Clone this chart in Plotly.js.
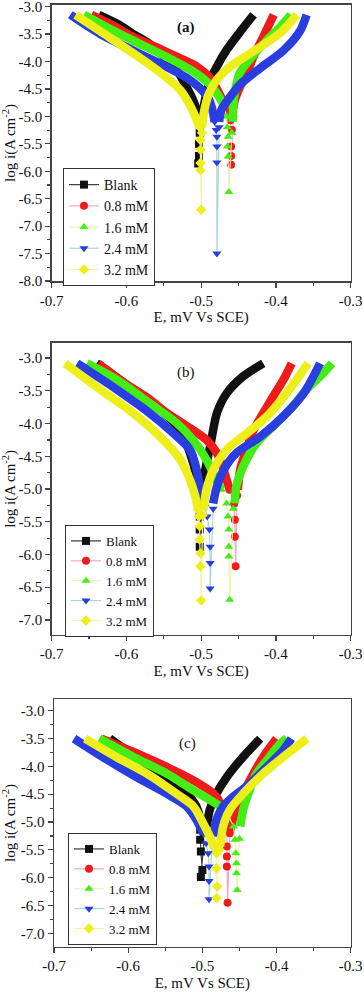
<!DOCTYPE html>
<html>
<head>
<meta charset="utf-8">
<script src="https://cdn.plot.ly/plotly-3.0.1.min.js"></script>
<style>
html,body{margin:0;padding:0;background:#fff;}
#chart{width:364px;height:992px;}
</style>
</head>
<body>
<div id="chart"></div>
<script>
// ---------------- DATA (E vs SCE, log i) ----------------
const seriesNames = ['Blank', '0.8 mM', '1.6 mM', '2.4 mM', '3.2 mM'];
const panelLabels = ['(a)', '(b)', '(c)'];
const xTickVals = [-0.7, -0.6, -0.5, -0.4, -0.3];
const xTickText = ['-0.7', '-0.6', '-0.5', '-0.4', '-0.3'];
const yTickValsA = [-3.0, -3.5, -4.0, -4.5, -5.0, -5.5, -6.0, -6.5, -7.0, -7.5, -8.0];
const yTickTextA = ['-3.0', '-3.5', '-4.0', '-4.5', '-5.0', '-5.5', '-6.0', '-6.5', '-7.0', '-7.5', '-8.0'];
const yTickValsBC = [-3.0, -3.5, -4.0, -4.5, -5.0, -5.5, -6.0, -6.5, -7.0];
const yTickTextBC = ['-3.0', '-3.5', '-4.0', '-4.5', '-5.0', '-5.5', '-6.0', '-6.5', '-7.0'];

// Panel (a)
const a_blank_cath = [[-0.637,-3.15],[-0.610,-3.33],[-0.591,-3.50],[-0.570,-3.67],[-0.555,-3.85],[-0.543,-4.00],[-0.533,-4.15],[-0.522,-4.40],[-0.513,-4.64],[-0.506,-4.88],[-0.503,-5.05]];
const a_blank_tip  = [[-0.503,-5.05],[-0.502,-5.30],[-0.503,-5.50],[-0.503,-5.72],[-0.504,-5.86],[-0.499,-5.10]];
const a_blank_anod = [[-0.499,-5.00],[-0.497,-4.85],[-0.494,-4.64],[-0.488,-4.34],[-0.479,-4.09],[-0.466,-3.79],[-0.448,-3.46],[-0.430,-3.15]];
const a_red_cath = [[-0.647,-3.15],[-0.620,-3.33],[-0.591,-3.55],[-0.560,-3.74],[-0.530,-3.93],[-0.506,-4.09],[-0.488,-4.30],[-0.477,-4.55],[-0.468,-4.80]];
const a_red_tip  = [[-0.468,-4.80],[-0.464,-4.92],[-0.461,-5.07],[-0.459,-5.25],[-0.460,-5.55],[-0.460,-5.72],[-0.460,-5.88],[-0.457,-5.00]];
const a_red_anod = [[-0.457,-4.85],[-0.455,-4.70],[-0.448,-4.46],[-0.439,-4.22],[-0.430,-3.91],[-0.417,-3.55],[-0.403,-3.15]];
const a_green_cath = [[-0.657,-3.15],[-0.630,-3.35],[-0.591,-3.62],[-0.546,-3.92],[-0.511,-4.18],[-0.490,-4.40],[-0.478,-4.60],[-0.470,-4.80]];
const a_green_tip  = [[-0.470,-4.80],[-0.466,-5.00],[-0.465,-5.20],[-0.464,-5.37],[-0.465,-5.55],[-0.464,-5.73],[-0.463,-6.38],[-0.459,-5.30]];
const a_green_anod = [[-0.458,-5.10],[-0.457,-4.80],[-0.455,-4.55],[-0.448,-4.20],[-0.430,-3.88],[-0.412,-3.61],[-0.395,-3.38],[-0.380,-3.15]];
const a_blue_cath = [[-0.675,-3.15],[-0.635,-3.50],[-0.591,-3.80],[-0.546,-4.10],[-0.519,-4.30],[-0.502,-4.48],[-0.490,-4.68],[-0.484,-4.94],[-0.482,-5.10]];
const a_blue_tip  = [[-0.482,-5.10],[-0.480,-5.25],[-0.479,-5.37],[-0.479,-5.55],[-0.479,-5.84],[-0.479,-7.50],[-0.476,-5.20]];
const a_blue_anod = [[-0.476,-5.10],[-0.473,-4.88],[-0.461,-4.64],[-0.448,-4.42],[-0.421,-4.12],[-0.390,-3.80],[-0.368,-3.45],[-0.359,-3.15]];
const a_yellow_cath = [[-0.668,-3.15],[-0.635,-3.45],[-0.591,-3.85],[-0.555,-4.20],[-0.528,-4.52],[-0.513,-4.85],[-0.505,-5.10],[-0.502,-5.20]];
const a_yellow_tip  = [[-0.502,-5.20],[-0.501,-5.43],[-0.501,-5.61],[-0.501,-5.85],[-0.501,-5.98],[-0.500,-6.70],[-0.499,-5.30]];
const a_yellow_anod = [[-0.499,-5.20],[-0.496,-4.90],[-0.490,-4.60],[-0.480,-4.35],[-0.462,-4.10],[-0.440,-3.90],[-0.415,-3.68],[-0.392,-3.45],[-0.372,-3.15]];

// Panel (b)
const b_blank_cath = [[-0.640,-3.08],[-0.615,-3.28],[-0.591,-3.48],[-0.555,-3.79],[-0.528,-4.10],[-0.515,-4.45],[-0.506,-4.81],[-0.503,-5.01]];
const b_blank_tip  = [[-0.503,-5.01],[-0.502,-5.22],[-0.502,-5.42],[-0.502,-5.62],[-0.502,-5.88],[-0.499,-5.10]];
const b_blank_anod = [[-0.498,-5.00],[-0.496,-4.81],[-0.493,-4.61],[-0.488,-4.35],[-0.484,-4.10],[-0.479,-3.84],[-0.466,-3.54],[-0.444,-3.28],[-0.417,-3.08]];
const b_red_cath = [[-0.638,-3.08],[-0.600,-3.40],[-0.570,-3.62],[-0.546,-3.84],[-0.519,-4.04],[-0.493,-4.25],[-0.479,-4.45],[-0.470,-4.71],[-0.462,-5.01]];
const b_red_tip  = [[-0.462,-5.01],[-0.456,-5.22],[-0.455,-5.47],[-0.455,-5.73],[-0.454,-6.18],[-0.452,-5.10]];
const b_red_anod = [[-0.451,-5.01],[-0.448,-4.71],[-0.441,-4.45],[-0.430,-4.10],[-0.417,-3.84],[-0.404,-3.59],[-0.390,-3.33],[-0.379,-3.08]];
const b_green_cath = [[-0.653,-3.08],[-0.613,-3.33],[-0.569,-3.69],[-0.533,-3.99],[-0.511,-4.25],[-0.493,-4.55],[-0.482,-4.81],[-0.473,-5.01]];
const b_green_tip  = [[-0.473,-5.01],[-0.466,-5.22],[-0.464,-5.42],[-0.463,-5.62],[-0.463,-5.88],[-0.463,-6.03],[-0.462,-6.69],[-0.457,-5.30]];
const b_green_anod = [[-0.455,-5.22],[-0.453,-4.96],[-0.444,-4.66],[-0.426,-4.30],[-0.399,-3.99],[-0.377,-3.73],[-0.359,-3.48],[-0.341,-3.28],[-0.325,-3.08]];
const b_blue_cath = [[-0.666,-3.08],[-0.613,-3.48],[-0.569,-3.84],[-0.537,-4.15],[-0.515,-4.40],[-0.506,-4.71],[-0.502,-4.96],[-0.499,-5.11]];
const b_blue_tip  = [[-0.499,-5.11],[-0.495,-5.27],[-0.492,-5.42],[-0.489,-5.62],[-0.488,-5.88],[-0.488,-6.13],[-0.488,-6.52],[-0.484,-5.30]];
const b_blue_anod = [[-0.484,-5.22],[-0.479,-4.96],[-0.470,-4.71],[-0.453,-4.45],[-0.421,-4.20],[-0.390,-3.89],[-0.363,-3.54],[-0.341,-3.08]];
const b_yellow_cath = [[-0.682,-3.08],[-0.635,-3.48],[-0.591,-3.84],[-0.555,-4.20],[-0.528,-4.55],[-0.515,-4.86],[-0.508,-5.11],[-0.504,-5.32]];
const b_yellow_tip  = [[-0.504,-5.32],[-0.503,-5.42],[-0.502,-5.57],[-0.502,-5.77],[-0.501,-5.98],[-0.501,-6.18],[-0.500,-6.70],[-0.498,-5.40]];
const b_yellow_anod = [[-0.497,-5.32],[-0.493,-5.01],[-0.484,-4.71],[-0.466,-4.40],[-0.439,-4.15],[-0.412,-3.89],[-0.386,-3.54],[-0.357,-3.08]];

// Panel (c)
const c_blank_cath = [[-0.625,-3.50],[-0.593,-3.80],[-0.548,-4.20],[-0.521,-4.49],[-0.508,-4.72],[-0.503,-4.96],[-0.503,-5.14]];
const c_blank_tip  = [[-0.503,-5.14],[-0.503,-5.32],[-0.502,-5.53],[-0.500,-5.86],[-0.502,-5.99],[-0.497,-5.20]];
const c_blank_anod = [[-0.494,-5.08],[-0.490,-4.78],[-0.481,-4.49],[-0.467,-4.19],[-0.449,-3.89],[-0.422,-3.50]];
const c_red_cath = [[-0.636,-3.50],[-0.593,-3.74],[-0.548,-4.01],[-0.512,-4.25],[-0.485,-4.49],[-0.476,-4.66],[-0.472,-4.90]];
const c_red_tip  = [[-0.472,-4.90],[-0.467,-5.14],[-0.467,-5.44],[-0.467,-5.62],[-0.467,-5.80],[-0.466,-6.45],[-0.463,-5.20]];
const c_red_anod = [[-0.463,-5.20],[-0.458,-4.90],[-0.449,-4.60],[-0.436,-4.25],[-0.418,-3.83],[-0.400,-3.50]];
const c_green_cath = [[-0.639,-3.50],[-0.593,-3.83],[-0.548,-4.13],[-0.512,-4.43],[-0.490,-4.60],[-0.476,-4.72],[-0.466,-4.85]];
const c_green_tip  = [[-0.466,-4.85],[-0.458,-5.08],[-0.456,-5.32],[-0.455,-5.56],[-0.454,-5.74],[-0.454,-5.92],[-0.453,-6.22],[-0.450,-5.30]];
const c_green_anod = [[-0.449,-5.08],[-0.445,-4.78],[-0.438,-4.49],[-0.427,-4.13],[-0.413,-3.89],[-0.395,-3.59],[-0.386,-3.50]];
const c_blue_cath = [[-0.673,-3.50],[-0.638,-3.80],[-0.593,-4.16],[-0.548,-4.49],[-0.521,-4.72],[-0.508,-4.96],[-0.499,-5.20]];
const c_blue_tip  = [[-0.499,-5.20],[-0.495,-5.38],[-0.492,-5.56],[-0.491,-5.80],[-0.491,-6.06],[-0.491,-6.39],[-0.487,-5.40]];
const c_blue_anod = [[-0.485,-5.26],[-0.481,-4.96],[-0.472,-4.72],[-0.458,-4.54],[-0.436,-4.31],[-0.413,-4.01],[-0.391,-3.71],[-0.380,-3.50]];
const c_yellow_cath = [[-0.658,-3.50],[-0.616,-3.83],[-0.571,-4.16],[-0.535,-4.49],[-0.512,-4.72],[-0.499,-5.02],[-0.490,-5.26],[-0.485,-5.44]];
const c_yellow_tip  = [[-0.485,-5.44],[-0.481,-5.56],[-0.481,-5.83],[-0.480,-6.16],[-0.481,-6.37],[-0.477,-5.50]];
const c_yellow_anod = [[-0.476,-5.44],[-0.472,-5.08],[-0.463,-4.78],[-0.445,-4.49],[-0.418,-4.13],[-0.391,-3.83],[-0.359,-3.50]];

// ---------------- STYLE ----------------
const FONT = '"Liberation Serif", "Times New Roman", serif';
const styles = [
  {color:'#111111', light:'#3a3a3a', symbol:'square'},
  {color:'#f01c1c', light:'#f2a6cc', symbol:'circle'},
  {color:'#44ee14', light:'#f4efb0', symbol:'triangle-up'},
  {color:'#2a3ee0', light:'#a9d6d6', symbol:'triangle-down'},
  {color:'#eeee1a', light:'#f7f3a8', symbol:'diamond'}
];

const panels = [
  {xa:'x', ya:'y', legend:'legend', sets:[
    [a_blank_cath,a_blank_tip,a_blank_anod],[a_red_cath,a_red_tip,a_red_anod],
    [a_green_cath,a_green_tip,a_green_anod],[a_blue_cath,a_blue_tip,a_blue_anod],
    [a_yellow_cath,a_yellow_tip,a_yellow_anod]]},
  {xa:'x2', ya:'y2', legend:'legend2', sets:[
    [b_blank_cath,b_blank_tip,b_blank_anod],[b_red_cath,b_red_tip,b_red_anod],
    [b_green_cath,b_green_tip,b_green_anod],[b_blue_cath,b_blue_tip,b_blue_anod],
    [b_yellow_cath,b_yellow_tip,b_yellow_anod]]},
  {xa:'x3', ya:'y3', legend:'legend3', sets:[
    [c_blank_cath,c_blank_tip,c_blank_anod],[c_red_cath,c_red_tip,c_red_anod],
    [c_green_cath,c_green_tip,c_green_anod],[c_blue_cath,c_blue_tip,c_blue_anod],
    [c_yellow_cath,c_yellow_tip,c_yellow_anod]]}
];

const traces = [];
panels.forEach((p, pi) => {
  p.sets.forEach((set, si) => {
    const st = styles[si];
    const grp = 'p' + pi + 's' + si;
    [set[0], set[2]].forEach(branch => {
      traces.push({
        type:'scatter', mode:'lines', xaxis:p.xa, yaxis:p.ya,
        x: branch.map(d => d[0]), y: branch.map(d => d[1]),
        line:{color:st.color, width:8.5, shape:'spline', smoothing:0.8},
        showlegend:false, legendgroup:grp, hoverinfo:'skip'
      });
    });
    traces.push({
      type:'scatter', mode:'lines+markers', xaxis:p.xa, yaxis:p.ya,
      x: set[1].map(d => d[0]), y: set[1].map(d => d[1]),
      name: seriesNames[si], legend:p.legend, legendgroup:grp,
      line:{color:st.light, width:1.2},
      marker:{symbol:st.symbol, color:st.color, size:8, line:{width:0}}
    });
  });
});

function xAxis(anchor, domain) {
  return {
    anchor, domain, range:[-0.7,-0.3], tickvals:xTickVals, ticktext:xTickText,
    showline:true, mirror:true, linecolor:'#444', linewidth:1.5,
    ticks:'outside', ticklen:5, tickcolor:'#444', tickwidth:1.2,
    minor:{ticks:'outside', ticklen:3, tickcolor:'#444', dtick:0.05, tick0:-0.7},
    showgrid:false, zeroline:false, automargin:false, ticklabeloverflow:'allow',
    tickfont:{family:FONT, size:15, color:'#111'},
    title:{text:'E, mV Vs SCE)', font:{family:FONT, size:15, color:'#111'}, standoff:4}
  };
}
function yAxis(anchor, domain, range, tv, tt) {
  return {
    anchor, domain, range, tickvals:tv, ticktext:tt,
    showline:true, mirror:true, linecolor:'#444', linewidth:1.5,
    ticks:'outside', ticklen:5, tickcolor:'#444', tickwidth:1.2,
    minor:{ticks:'outside', ticklen:3, tickcolor:'#444', dtick:0.25, tick0:-3},
    showgrid:false, zeroline:false, automargin:false, ticklabeloverflow:'allow',
    tickfont:{family:FONT, size:15, color:'#111'},
    title:{text:'log i(A cm<sup>-2</sup>)', font:{family:FONT, size:15, color:'#111'}, standoff:3}
  };
}
function legendBox(x, y, size) {
  return {x, y, xanchor:'left', yanchor:'top', bgcolor:'#fff', bordercolor:'#333', borderwidth:1,
    font:{family:FONT, size, color:'#111'}, tracegroupgap:0, itemwidth:30};
}

const layout = {
  width:364, height:992, margin:{l:0, r:0, t:0, b:0},
  paper_bgcolor:'#fff', plot_bgcolor:'#fff', showlegend:true,
  font:{family:FONT, color:'#111'},
  xaxis: xAxis('y', [0.142, 0.9635]),
  yaxis: yAxis('x', [0.7167, 0.995], [-8.0, -2.97], yTickValsA, yTickTextA),
  xaxis2: xAxis('y2', [0.142, 0.9635]),
  yaxis2: yAxis('x2', [0.3599, 0.6545], [-7.229, -2.766], yTickValsBC, yTickTextBC),
  xaxis3: xAxis('y3', [0.1484, 0.9635]),
  yaxis3: yAxis('x3', [0.0457, 0.295], [-7.24, -2.795], yTickValsBC, yTickTextBC),
  legend: legendBox(0.173, 0.8306, 14),
  legend2: legendBox(0.1786, 0.4708, 13),
  legend3: legendBox(0.1868, 0.1603, 13),
  annotations: [
    {xref:'x', yref:'y domain', x:-0.52, y:0.955, text:'<b>' + panelLabels[0] + '</b>', showarrow:false, font:{family:FONT, size:15, color:'#111'}},
    {xref:'x2', yref:'y2 domain', x:-0.52, y:0.935, text:panelLabels[1], showarrow:false, font:{family:FONT, size:15, color:'#111'}},
    {xref:'x3', yref:'y3 domain', x:-0.52, y:0.865, text:panelLabels[2], showarrow:false, font:{family:FONT, size:15, color:'#111'}}
  ]
};

Plotly.newPlot('chart', traces, layout, {displayModeBar:false, staticPlot:true});
</script>
</body>
</html>
